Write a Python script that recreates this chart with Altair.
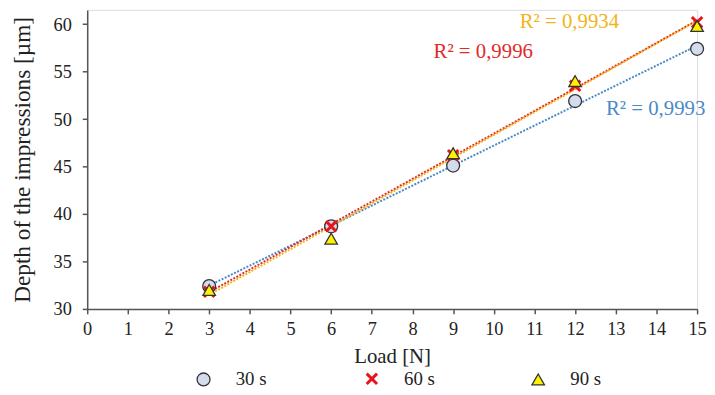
import altair as alt
import pandas as pd

loads = [3, 6, 9, 12, 15]
series_names = ["30 s", "60 s", "90 s"]
depth_30 = [32.4, 38.7, 45.1, 51.9, 57.4]
depth_60 = [31.8, 38.7, 46.2, 53.5, 60.2]
depth_90 = [32.0, 37.4, 46.4, 54.0, 59.8]

r2_labels = ["R² = 0,9993", "R² = 0,9996", "R² = 0,9934"]
r2_load = [13.98, 9.74, 11.86]
r2_depth = [51.1, 57.1, 60.2]

rows = []
for name, vals in zip(series_names, [depth_30, depth_60, depth_90]):
    for l, d in zip(loads, vals):
        rows.append({"load": l, "depth": d, "series": name})
df = pd.DataFrame(rows)
ann = pd.DataFrame({"series": series_names, "label": r2_labels,
                    "load": r2_load, "depth": r2_depth})

FONT = "Liberation Serif"
X_PATH = "M-1,-1L1,1M1,-1L-1,1"

xscale = alt.Scale(domain=[0, 15], nice=False, zero=False)
yscale = alt.Scale(domain=[30, 61.5], nice=False, zero=False)

line_colors = alt.Scale(domain=["90 s", "60 s", "30 s"],
                        range=["#f2b418", "#e02a2a", "#4a8ac6"])

xaxis = alt.Axis(values=list(range(0, 16)), title="Load [N]", grid=False,
                 labelFont=FONT, labelFontSize=18.5, labelColor="#222",
                 titleFont=FONT, titleFontSize=21, titleFontWeight="normal",
                 titleColor="#222", domainColor="#555", domainWidth=1.5,
                 tickColor="#555", tickSize=5, tickWidth=1.5, labelPadding=6,
                 titlePadding=8, labelFlush=False)
yaxis = alt.Axis(values=[30, 35, 40, 45, 50, 55, 60],
                 title="Depth of the impressions [µm]", grid=False,
                 labelFont=FONT, labelFontSize=18.5, labelColor="#222",
                 titleFont=FONT, titleFontSize=23.5, titleFontWeight="normal",
                 titleColor="#222", domainColor="#555", domainWidth=1.5,
                 tickColor="#555", tickSize=5, tickWidth=1.5, labelPadding=11,
                 titlePadding=19)

base = alt.Chart(df)

trend = base.transform_regression(
    "load", "depth", groupby=["series"], extent=[3, 15]
).mark_line(strokeDash=[2, 1.5], strokeWidth=2).encode(
    x=alt.X("load:Q", scale=xscale, axis=xaxis),
    y=alt.Y("depth:Q", scale=yscale, axis=yaxis),
    color=alt.Color("series:N", scale=line_colors, legend=None),
    detail="series:N",
)

legend = alt.Legend(
    title=None, orient="none", legendX=108, legendY=363, direction="horizontal",
    columns=3, columnPadding=94, labelFont=FONT, labelFontSize=19,
    labelColor="#222", labelOffset=23, labelLimit=200,
)

points = base.mark_point(opacity=1, filled=False).encode(
    x=alt.X("load:Q", scale=xscale),
    y=alt.Y("depth:Q", scale=yscale),
    shape=alt.Shape("series:N", scale=alt.Scale(domain=series_names,
                    range=["circle", X_PATH, "triangle-up"]), legend=legend),
    fill=alt.Fill("series:N", scale=alt.Scale(domain=series_names,
                  range=["#d3dbec", "#e8141b", "#fff200"]), legend=legend),
    stroke=alt.Stroke("series:N", scale=alt.Scale(domain=series_names,
                      range=["#333333", "#e8141b", "#333333"]), legend=legend),
    strokeWidth=alt.StrokeWidth("series:N", scale=alt.Scale(type="ordinal",
                                domain=series_names, range=[1.3, 3, 1.3]),
                                legend=legend),
    size=alt.Size("series:N", scale=alt.Scale(type="ordinal", domain=series_names,
                  range=[170, 110, 160]), legend=legend),
)

texts = alt.Chart(ann).mark_text(font=FONT, fontSize=21, align="center",
                                 baseline="middle").encode(
    x=alt.X("load:Q", scale=xscale),
    y=alt.Y("depth:Q", scale=yscale),
    text="label:N",
    color=alt.Color("series:N", scale=line_colors, legend=None),
)

chart = alt.layer(trend, points, texts).properties(
    width=616, height=302,
    autosize=alt.AutoSizeParams(type="none"),
    padding={"left": 80, "top": 0, "right": 10, "bottom": 82},
).configure_view(stroke=None).configure(background="white").configure_legend(
    labelFont=FONT, labelFontSize=19, labelColor="#222", labelOffset=23,
    labelLimit=200, labelFontWeight="normal",
)

chart.save("out.html", embed_options={"renderer": "svg", "actions": False})
